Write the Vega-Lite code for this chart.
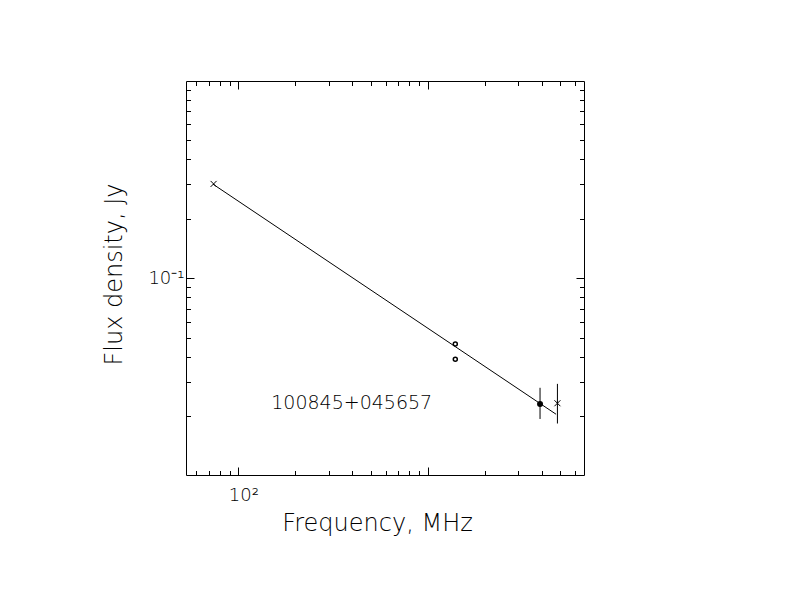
{
  "$schema": "https://vega.github.io/schema/vega-lite/v6.json",
  "description": "Radio spectrum of 100845+045657: flux density vs frequency, log-log.",
  "autosize": "none",
  "padding": {"left": 186, "top": 81, "right": 208, "bottom": 137},
  "width": 398,
  "height": 394,
  "background": "white",
  "config": {
    "view": {"stroke": "black", "strokeWidth": 1},
    "axis": {
      "grid": false,
      "domain": false,
      "tickColor": "black",
      "tickWidth": 1,
      "labelColor": "black",
      "labelFont": "DejaVu Sans",
      "labelFontSize": 18,
      "labelFontWeight": 300,
      "labelFlush": false,
      "labelOverlap": false,
      "titleColor": "black",
      "titleFont": "DejaVu Sans",
      "titleFontSize": 24,
      "titleFontWeight": 300
    }
  },
  "datasets": {
    "fit": [
      {"freq": 73.5, "flux": 0.299},
      {"freq": 4770, "flux": 0.0205}
    ],
    "crosses": [
      {"freq": 74, "flux": 0.3},
      {"freq": 4850, "flux": 0.0233}
    ],
    "circles": [
      {"freq": 1400, "flux": 0.0464},
      {"freq": 1400, "flux": 0.0389}
    ],
    "filled": [
      {"freq": 3925, "flux": 0.0231}
    ],
    "errors": [
      {"freq": 3925, "lo": 0.0194, "hi": 0.0279},
      {"freq": 4850, "lo": 0.0184, "hi": 0.0292}
    ]
  },
  "layer": [
    {
      "data": {"name": "fit"},
      "mark": {"type": "line", "color": "black", "strokeWidth": 1},
      "encoding": {
        "x": {
          "field": "freq", "type": "quantitative",
          "scale": {"type": "log", "domain": [52.9, 6700], "nice": false},
          "axis": {
            "orient": "bottom", "values": [100, 1000], "tickSize": -8,
            "labelExpr": "datum.value == 100 ? '10²' : ''",
            "labelPadding": 19, "labelAlign": "left", "labelOffset": -10,
            "title": "Frequency, MHz", "titleX": 191, "titleY": 48,
            "titleBaseline": "middle"
          }
        },
        "y": {
          "field": "flux", "type": "quantitative",
          "scale": {"type": "log", "domain": [0.0101, 0.995], "nice": false},
          "axis": {
            "orient": "left", "values": [0.1], "tickSize": -8,
            "labelExpr": "'10⁻¹'", "labelPadding": 10, "labelBaseline": "middle",
            "title": "Flux density, Jy", "titleX": -72, "titleY": 193,
            "titleBaseline": "middle"
          }
        }
      }
    },
    {
      "data": {"name": "errors"},
      "mark": {"type": "rule", "color": "black", "strokeWidth": 1},
      "encoding": {
        "x": {
          "field": "freq", "type": "quantitative",
          "scale": {"type": "log", "domain": [52.9, 6700], "nice": false},
          "axis": {
            "orient": "bottom", "tickSize": -4.5, "labels": false, "title": null,
            "values": [60, 70, 80, 90, 200, 300, 400, 500, 600, 700, 800, 900, 2000, 3000, 4000, 5000, 6000]
          }
        },
        "y": {
          "field": "lo", "type": "quantitative",
          "scale": {"type": "log", "domain": [0.0101, 0.995], "nice": false},
          "axis": {
            "orient": "left", "tickSize": -4.5, "labels": false, "title": null,
            "values": [0.02, 0.03, 0.04, 0.05, 0.06, 0.07, 0.08, 0.09, 0.2, 0.3, 0.4, 0.5, 0.6, 0.7, 0.8, 0.9]
          }
        },
        "y2": {"field": "hi"}
      }
    },
    {
      "data": {"name": "crosses"},
      "mark": {"type": "point", "shape": "M-1,-1L1,1M-1,1L1,-1", "filled": false, "stroke": "black", "strokeWidth": 1, "size": 36, "opacity": 1},
      "encoding": {
        "x": {
          "field": "freq", "type": "quantitative",
          "scale": {"type": "log", "domain": [52.9, 6700], "nice": false},
          "axis": {"orient": "top", "values": [100, 1000], "tickSize": -8, "labels": false, "title": null}
        },
        "y": {
          "field": "flux", "type": "quantitative",
          "scale": {"type": "log", "domain": [0.0101, 0.995], "nice": false},
          "axis": {"orient": "right", "values": [0.1], "tickSize": -8, "labels": false, "title": null}
        }
      }
    },
    {
      "data": {"name": "circles"},
      "mark": {"type": "point", "shape": "circle", "filled": false, "stroke": "black", "strokeWidth": 1.5, "size": 16, "opacity": 1},
      "encoding": {
        "x": {
          "field": "freq", "type": "quantitative",
          "scale": {"type": "log", "domain": [52.9, 6700], "nice": false},
          "axis": {
            "orient": "top", "tickSize": -4.5, "labels": false, "title": null,
            "values": [60, 70, 80, 90, 200, 300, 400, 500, 600, 700, 800, 900, 2000, 3000, 4000, 5000, 6000]
          }
        },
        "y": {
          "field": "flux", "type": "quantitative",
          "scale": {"type": "log", "domain": [0.0101, 0.995], "nice": false},
          "axis": {
            "orient": "right", "tickSize": -4.5, "labels": false, "title": null,
            "values": [0.02, 0.03, 0.04, 0.05, 0.06, 0.07, 0.08, 0.09, 0.2, 0.3, 0.4, 0.5, 0.6, 0.7, 0.8, 0.9]
          }
        }
      }
    },
    {
      "data": {"name": "filled"},
      "mark": {"type": "point", "shape": "circle", "filled": true, "color": "black", "size": 36, "opacity": 1},
      "encoding": {
        "x": {"field": "freq", "type": "quantitative", "scale": {"type": "log", "domain": [52.9, 6700], "nice": false}, "axis": null},
        "y": {"field": "flux", "type": "quantitative", "scale": {"type": "log", "domain": [0.0101, 0.995], "nice": false}, "axis": null}
      }
    },
    {
      "data": {"values": [{"name": "100845+045657"}]},
      "mark": {"type": "text", "font": "DejaVu Sans", "fontSize": 19, "fontWeight": 300, "color": "black", "align": "center", "baseline": "middle"},
      "encoding": {
        "x": {"datum": 397, "type": "quantitative", "scale": {"type": "log", "domain": [52.9, 6700], "nice": false}, "axis": null},
        "y": {"datum": 0.0234, "type": "quantitative", "scale": {"type": "log", "domain": [0.0101, 0.995], "nice": false}, "axis": null},
        "text": {"field": "name"}
      }
    }
  ],
  "resolve": {"axis": {"x": "independent", "y": "independent"}}
}
